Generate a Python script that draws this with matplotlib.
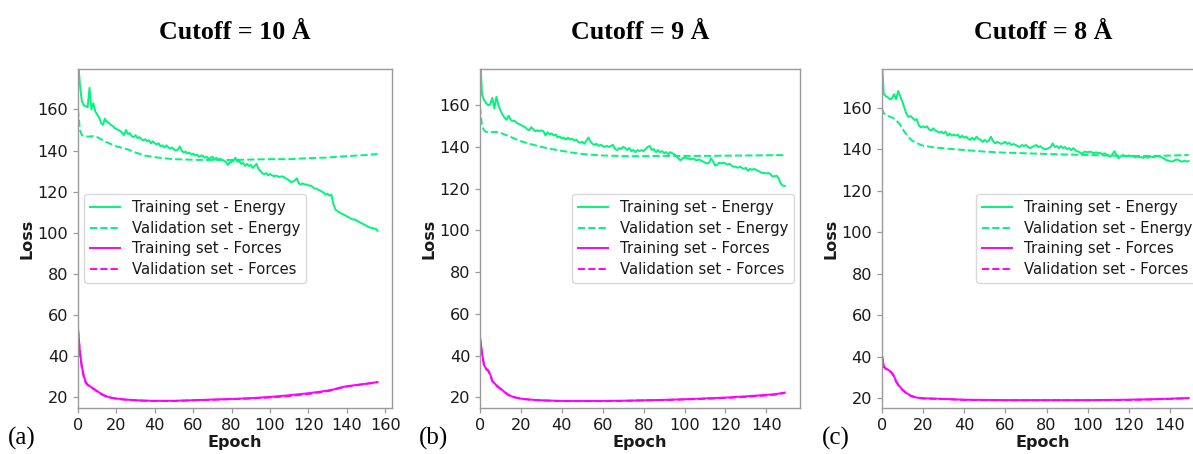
import matplotlib
matplotlib.use("Agg")
import matplotlib.pyplot as plt

# ---------------- data ----------------
titles = ["Cutoff = 10 Å", "Cutoff = 9 Å", "Cutoff = 8 Å"]
panel_tags = ["(a)", "(b)", "(c)"]
legend_labels = ["Training set - Energy", "Validation set - Energy",
                 "Training set - Forces", "Validation set - Forces"]

# Panel (a): cutoff 10 Å, epochs 0..156
train_energy_a = [185, 172, 164, 162, 161.5, 161, 170.5, 160, 163, 159,
                  157.5, 156, 153.5, 152.5, 155.5, 154, 153.5, 152.5, 152, 151,
                  150.5, 150, 149.5, 148.5, 147.5, 150, 148, 148.5, 147, 146.5,
                  147.5, 146, 146.5, 145.5, 145, 145.5, 144.5, 145, 143.5, 144.5,
                  143.5, 143, 143.5, 142, 142.5, 141.5, 142.5, 141.5, 141, 141.5,
                  140.5, 140, 140.5, 142, 140, 139, 139.5, 138.5, 139, 138,
                  138.5, 137.5, 138, 137, 137.5, 137.5, 136.5, 137, 136, 136.5,
                  137, 135.5, 136.5, 135.5, 136, 135.5, 135, 134.5, 133, 134,
                  134.5, 135, 136.5, 134.5, 135, 133.5, 134, 132.5, 133.5, 132.5,
                  133, 131.5, 132.5, 133.5, 131, 130, 129, 128.5, 129, 128,
                  128.5, 128, 127.5, 127.8, 127.5, 127, 127.5, 127.2, 126.5, 126,
                  125.5, 124.5, 125, 125.5, 126.5, 124, 123.5, 124, 123.5, 123.5,
                  123, 123, 122.5, 121.5, 121.5, 121, 120.5, 120, 119.5, 118.5,
                  119, 118, 118.5, 114, 111.5, 110.5, 110, 109.5, 109, 108.5,
                  108, 107.5, 107, 106.5, 106.5, 106, 105.5, 105, 104.5, 104,
                  103.5, 103, 102.5, 102.5, 102, 102, 101]
val_energy_epochs_a = [0, 1, 2, 4, 6, 8, 10, 12, 15, 18, 20, 23, 26, 30, 35, 40, 45,
                       50, 60, 70, 80, 90, 100, 110, 120, 130, 140, 150, 156]
val_energy_a = [160, 150, 147.5, 146.8, 146.8, 147, 146.5, 145.5, 144, 142.8, 142,
                141.3, 140.5, 139, 137.5, 136.8, 136.2, 135.8, 135.5, 135.4, 135.4,
                135.6, 135.8, 135.8, 136.3, 136.6, 137.3, 137.8, 138.3]
force_epochs_a = [0, 1, 2, 3, 4, 5, 6, 8, 10, 12, 14, 16, 18, 20, 25, 30, 35, 40, 50,
                  60, 70, 80, 90, 100, 110, 120, 125, 130, 133, 136, 140, 145, 150, 156]
train_forces_a = [53.5, 42, 35, 30.5, 27.5, 26.2, 25.5, 24.3, 23, 21.8, 20.8, 20.1,
                  19.7, 19.4, 18.9, 18.6, 18.4, 18.3, 18.3, 18.6, 18.9, 19.2, 19.6,
                  20.2, 21.0, 22.0, 22.6, 23.3, 23.8, 24.6, 25.4, 26.0, 26.6, 27.4]
val_forces_a = [53, 41.5, 34.5, 30, 27.2, 26, 25.3, 24.1, 22.8, 21.6, 20.6, 20,
                19.6, 19.3, 18.8, 18.5, 18.3, 18.2, 18.2, 18.5, 18.8, 19.1, 19.4,
                19.9, 20.6, 21.6, 22.3, 23.0, 23.6, 24.4, 25.2, 25.9, 26.5, 27.3]

# Panel (b): cutoff 9 Å, epochs 0..149
train_energy_b = [185, 165, 162.5, 161, 160, 160.5, 163.5, 158.5, 164, 160,
                  157.5, 155.5, 154, 153, 155, 153, 152.5, 152.5, 151.5, 151,
                  150.5, 150, 149.5, 148.5, 148, 149.5, 148.5, 147.5, 148, 147.5,
                  148, 147.5, 145.5, 147, 146, 146.5, 145.5, 146, 144.5, 145,
                  144, 144.5, 143.5, 144.5, 143.5, 144, 143, 143.5, 142.5, 142,
                  142.5, 141.5, 143, 144.5, 142.5, 141.5, 141, 141.5, 140.5, 141,
                  140.5, 140, 140.5, 140, 140.5, 141, 139, 138.5, 139.5, 139,
                  140, 139.5, 138.5, 139.5, 138, 138.5, 137.5, 138.5, 138, 138.5,
                  138, 139, 140, 140.5, 138.5, 139, 137.5, 138.5, 137.5, 138,
                  137, 137.5, 136.5, 137.5, 137, 136.5, 135.5, 134.5, 133.5, 134.5,
                  135, 134.5, 134.5, 134, 134.5, 134, 133.5, 134, 133.5, 133,
                  132.5, 132, 132.5, 134.5, 133, 131, 131.5, 132.5, 132, 132.5,
                  132, 131.5, 132, 131, 130.5, 130.5, 130, 130.5, 130, 129.5,
                  130, 128.5, 129.5, 129, 129.5, 129, 128.5, 128, 127.5, 127.5,
                  127.3, 127.5, 127, 125.8, 126, 126.2, 125, 122.5, 121.5, 121.3]
val_energy_epochs_b = [0, 1, 2, 3, 5, 8, 10, 12, 15, 18, 20, 25, 30, 35, 40, 45, 50,
                       55, 60, 70, 80, 90, 100, 110, 120, 130, 140, 149]
val_energy_b = [159, 150, 148, 147.2, 147, 147.2, 146.7, 146, 144.8, 143.5, 142.7,
                141.3, 140, 139, 138.1, 137.3, 136.6, 136.2, 135.9, 135.6, 135.6,
                135.7, 135.7, 135.7, 135.8, 135.9, 136, 136.1]
force_epochs_b = [0, 1, 2, 3, 4, 5, 6, 7, 8, 10, 12, 14, 16, 18, 20, 25, 30, 40, 50,
                  60, 70, 80, 90, 100, 110, 120, 130, 140, 145, 149]
train_forces_b = [49, 41, 35.4, 33.8, 33, 31, 28, 26.8, 25.8, 24.2, 22.6, 21.2,
                  20.3, 19.8, 19.4, 18.9, 18.6, 18.3, 18.3, 18.3, 18.4, 18.6, 18.8,
                  19.1, 19.5, 19.9, 20.5, 21.2, 21.6, 22.3]
val_forces_b = [48.5, 40.5, 35, 33.5, 32.7, 30.8, 27.8, 26.6, 25.6, 24, 22.4, 21,
                20.2, 19.7, 19.3, 18.8, 18.5, 18.2, 18.2, 18.2, 18.3, 18.5, 18.7,
                19.0, 19.3, 19.7, 20.2, 20.9, 21.4, 22.1]

# Panel (c): cutoff 8 Å, epochs 0..149
train_energy_c = [185, 166.5, 165.5, 165, 164, 164.5, 166.5, 164, 168, 165.5,
                  163, 160, 157, 155.5, 156, 155, 154, 154.5, 151.5, 150.5,
                  151, 150.5, 151, 149.5, 149, 150, 149, 148.5, 148, 148.5,
                  147.5, 148.5, 146.5, 147.5, 146.5, 147, 146.5, 147, 145.5, 146.5,
                  145.5, 146, 145, 144.5, 145.5, 144.5, 146, 145, 144.5, 143.5,
                  144.5, 143.5, 144, 146, 144, 142.8, 143.5, 143, 142.5, 143,
                  143.5, 142.5, 143, 142, 142.5, 142, 141.5, 141, 142, 141.5,
                  142, 141, 140.5, 141, 141.5, 142, 141, 141.5, 140.5, 140,
                  140, 140.5, 141, 142.8, 141, 141.5, 140.5, 141.5, 140.5, 141,
                  140, 140.5, 139.5, 140.5, 139.5, 139, 138.5, 137.7, 138.5, 138.8,
                  138.5, 138.8, 138.5, 138, 138.5, 138, 138.2, 137.5, 138, 137.5,
                  137, 136.4, 137.5, 139, 137, 135.6, 136.5, 137.2, 136.8, 136.5,
                  137, 136.5, 136.8, 136, 136.5, 136, 136.2, 135.8, 136.5, 135.8,
                  136.2, 136.5, 136, 136.5, 136.7, 136.5, 136, 135.5, 134.8, 134.5,
                  134.2, 134, 134.5, 135, 134.8, 134.2, 134, 134.5, 134, 134.3]
val_energy_epochs_c = [0, 1, 3, 5, 7, 9, 11, 13, 15, 18, 20, 25, 30, 40, 50, 60, 70,
                       80, 90, 100, 110, 120, 130, 140, 149]
val_energy_c = [159.7, 157.3, 156, 155.3, 154, 151.7, 148.4, 145.7, 143.9, 142.5,
                141.7, 140.9, 140.4, 139.6, 138.8, 138.3, 138, 137.7, 137.4, 137.2,
                136.9, 136.7, 136.7, 136.9, 137.2]
force_epochs_c = [0, 1, 2, 3, 4, 5, 6, 7, 8, 10, 12, 14, 17, 20, 30, 40, 60, 80, 100,
                  120, 130, 140, 149]
train_forces_c = [41.7, 35.3, 34.3, 33.7, 33, 32.1, 30.5, 28.1, 26.5, 24.1, 22.4,
                  21.2, 20.2, 19.9, 19.6, 19.2, 19, 19, 19, 19.2, 19.4, 19.7, 20]
val_forces_c = [41.2, 35, 34.1, 33.5, 32.8, 31.9, 30.3, 27.9, 26.3, 23.9, 22.2,
                21.0, 20.1, 19.8, 19.5, 19.1, 18.9, 18.9, 18.9, 19.1, 19.3, 19.6, 19.9]

x_ticks_a = [0, 20, 40, 60, 80, 100, 120, 140, 160]
x_ticks_bc = [0, 20, 40, 60, 80, 100, 120, 140]
y_ticks = [20, 40, 60, 80, 100, 120, 140, 160]

# ---------------- style ----------------
GREEN = "#00F57A"
MAGENTA = "#FF00FF"
SPINE = "#9a9a9a"
TXT = "#1a1a1a"

W, H = 1193, 454
fig = plt.figure(figsize=(W / 100, H / 100), dpi=100)

def px_axes(left, right, top, bottom):
    return [left / W, (H - bottom) / H, (right - left) / W, (bottom - top) / H]

panels = [
    dict(rect=px_axes(78, 392.5, 69.3, 408), te=train_energy_a, ve_x=val_energy_epochs_a,
         ve=val_energy_a, f_x=force_epochs_a, tf=train_forces_a, vf=val_forces_a,
         ylim=(14.8, 179.5), xticks=x_ticks_a, loc="center left", tagx=8),
    dict(rect=px_axes(480, 800, 69.3, 408), te=train_energy_b, ve_x=val_energy_epochs_b,
         ve=val_energy_b, f_x=force_epochs_b, tf=train_forces_b, vf=val_forces_b,
         ylim=(14.9, 177.2), xticks=x_ticks_bc, loc="center right", tagx=419),
    dict(rect=px_axes(881.7, 1204, 69.3, 408), te=train_energy_c, ve_x=val_energy_epochs_c,
         ve=val_energy_c, f_x=force_epochs_c, tf=train_forces_c, vf=val_forces_c,
         ylim=(15.2, 178.5), xticks=x_ticks_bc, loc="center right", tagx=822),
]

tick_fs = 11.6
leg_fs = 10.7
for i, p in enumerate(panels):
    ax = fig.add_axes(p["rect"])
    ep = list(range(len(p["te"])))
    ax.plot(ep, p["te"], color=GREEN, lw=1.4, label=legend_labels[0])
    ax.plot(p["ve_x"], p["ve"], color=GREEN, lw=1.4, ls="--", label=legend_labels[1])
    ax.plot(p["f_x"], p["tf"], color=MAGENTA, lw=1.4, label=legend_labels[2])
    ax.plot(p["f_x"], p["vf"], color=MAGENTA, lw=1.4, ls="--", label=legend_labels[3])
    ax.set_xlim(0, (len(p["te"]) - 1) * 1.05)
    ax.set_ylim(*p["ylim"])
    ax.set_xticks(p["xticks"])
    ax.set_yticks(y_ticks)
    for s in ax.spines.values():
        s.set_color(SPINE)
        s.set_linewidth(1.0)
    ax.tick_params(colors=SPINE, labelcolor=TXT, labelsize=tick_fs, length=3.5, width=0.9)
    ax.set_xlabel("Epoch", fontsize=11.5, fontweight="bold", color=TXT, labelpad=2)
    ax.set_ylabel("Loss", fontsize=11.5, fontweight="bold", color=TXT, labelpad=2)
    ax.set_title(titles[i], fontsize=18.7, fontweight="bold", family="Liberation Serif",
                 pad=21.6, color="black")
    leg = ax.legend(loc=p["loc"], fontsize=leg_fs, frameon=True, fancybox=True,
                    framealpha=0.8, edgecolor="#d0d0d0", handlelength=2.0,
                    borderaxespad=0.4, labelspacing=0.38)
    for t in leg.get_texts():
        t.set_color(TXT)
    fig.text(p["tagx"] / W, (H - 438) / H, panel_tags[i], fontsize=18,
             family="Liberation Serif", va="center", ha="left", color="black")

fig.savefig("out.png", dpi=100)
